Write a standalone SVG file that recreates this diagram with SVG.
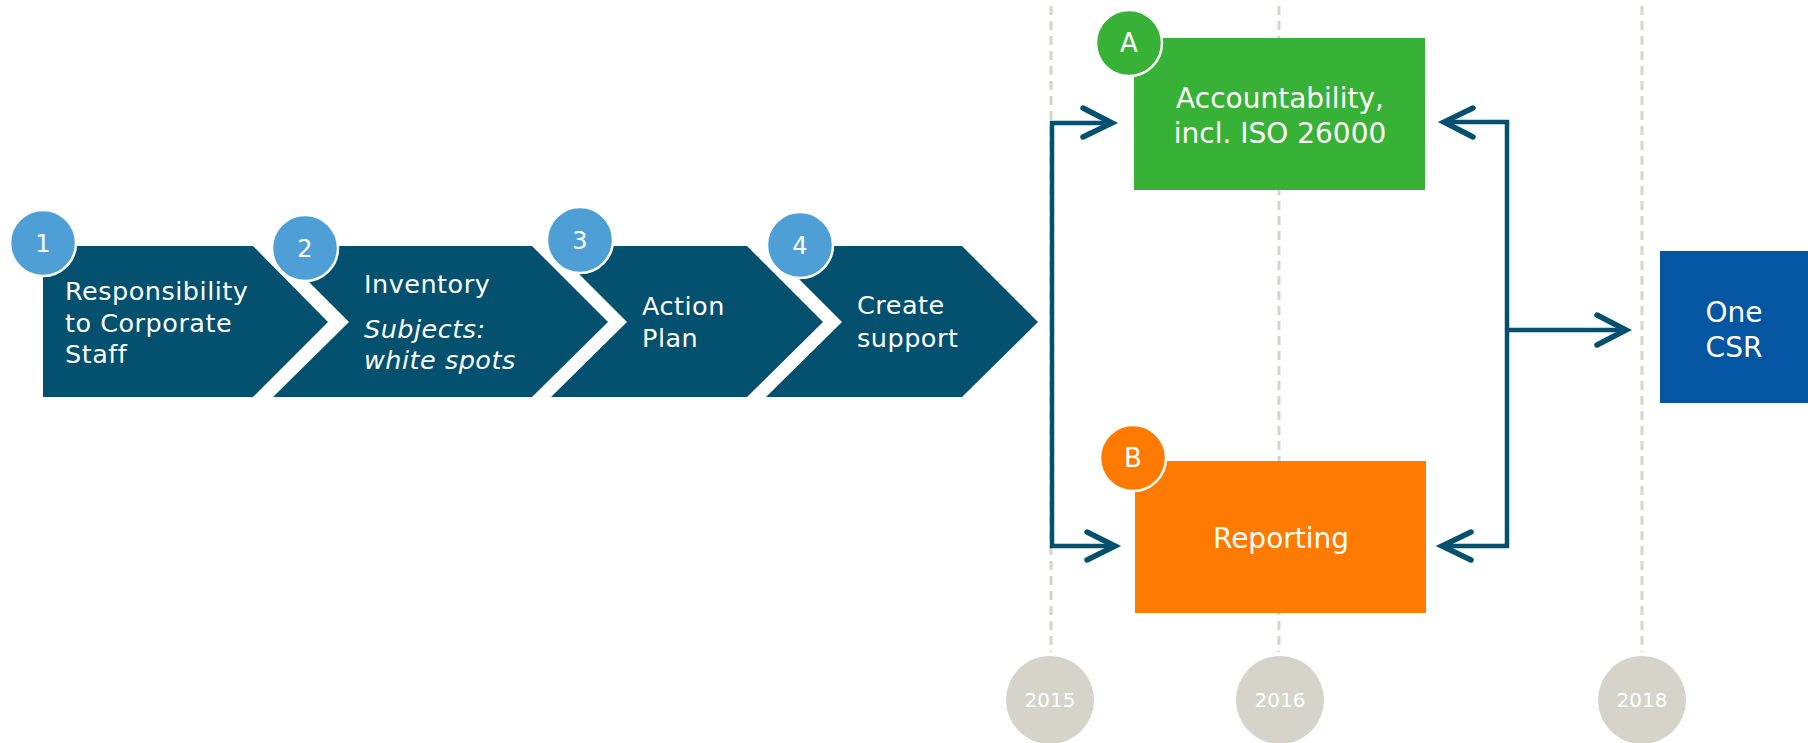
<svg xmlns="http://www.w3.org/2000/svg" width="1808" height="743" viewBox="0 0 1808 743">
<defs>
<style>
.chev{fill:#03506F}
.num{fill:#4F9FD7;stroke:#fff;stroke-width:2.5}
.t{font-family:"DejaVu Sans","Liberation Sans",sans-serif;fill:#fff}
.ct{font-size:25.5px;letter-spacing:0.5px}
.bt{font-size:28px;text-anchor:middle}
.nt{font-size:24px;text-anchor:middle}
.lt{font-size:26px;text-anchor:middle}
.yt{font-size:20px;text-anchor:middle}
.dash{stroke:#D5D3CA;stroke-width:3;stroke-dasharray:9 6;fill:none}
.year{fill:#D5D3CA}
.line{stroke:#03506F;stroke-width:4.5;fill:none;stroke-linejoin:miter}
.head{stroke:#03506F;stroke-width:5.5;fill:none;stroke-linecap:round;stroke-linejoin:miter}
</style>
</defs>
<rect width="1808" height="743" fill="#fff"/>

<g id="timeline">
<line class="dash" x1="1051" y1="6" x2="1051" y2="652"/>
<line class="dash" x1="1279" y1="6" x2="1279" y2="652"/>
<line class="dash" x1="1642" y1="6" x2="1642" y2="652"/>
<g id="y2015"><circle class="year" cx="1050" cy="700" r="44"/><text class="t yt" x="1050" y="707">2015</text></g>
<g id="y2016"><circle class="year" cx="1280" cy="700" r="44"/><text class="t yt" x="1280" y="707">2016</text></g>
<g id="y2018"><circle class="year" cx="1642" cy="700" r="44"/><text class="t yt" x="1642" y="707">2018</text></g>
</g>

<g id="step1">
<polygon class="chev" points="43,246 253,246 328,322 253,397 43,397"/>
<text class="t ct" x="65" y="300">Responsibility</text>
<text class="t ct" x="65" y="332">to Corporate</text>
<text class="t ct" x="65" y="363">Staff</text>
<circle class="num" cx="43" cy="243" r="33"/>
<text class="t nt" x="43" y="252">1</text>
</g>

<g id="step2">
<polygon class="chev" points="273,246 532,246 608,322 532,397 273,397 349,322"/>
<text class="t ct" x="364" y="293">Inventory</text>
<text class="t ct" x="364" y="338" font-style="italic">Subjects:</text>
<text class="t ct" x="364" y="369" font-style="italic">white spots</text>
<circle class="num" cx="305" cy="248" r="33"/>
<text class="t nt" x="305" y="257">2</text>
</g>

<g id="step3">
<polygon class="chev" points="551,246 747,246 823,322 747,397 551,397 627,322"/>
<text class="t ct" x="642" y="315">Action</text>
<text class="t ct" x="642" y="347">Plan</text>
<circle class="num" cx="580" cy="240" r="33"/>
<text class="t nt" x="580" y="249">3</text>
</g>

<g id="step4">
<polygon class="chev" points="766,246 962,246 1038,322 962,397 766,397 842,322"/>
<text class="t ct" x="857" y="314">Create</text>
<text class="t ct" x="857" y="347">support</text>
<circle class="num" cx="800" cy="245" r="33"/>
<text class="t nt" x="800" y="254">4</text>
</g>

<g id="connectors">
<polyline class="line" points="1112,123 1052,123 1052,546 1115,546"/>
<polyline class="head" points="1083,108 1112,123 1083,137"/>
<polyline class="head" points="1087,532 1115,546 1087,560"/>
<polyline class="line" points="1444,122 1507,122 1507,546 1442,546"/>
<line class="line" x1="1507" y1="330" x2="1626" y2="330"/>
<polyline class="head" points="1473,108 1444,122 1473,137"/>
<polyline class="head" points="1471,532 1442,546 1471,560"/>
<polyline class="head" points="1597,315 1626,330 1597,345"/>
</g>

<g id="nodeA">
<rect x="1134" y="38" width="291" height="152" fill="#37B236"/>
<text class="t bt" x="1280" y="108">Accountability,</text>
<text class="t bt" x="1280" y="143">incl. ISO 26000</text>
<circle cx="1129" cy="43" r="33" fill="#37B236" stroke="#fff" stroke-width="2.5"/>
<text class="t lt" x="1129" y="52">A</text>
</g>

<g id="nodeB">
<rect x="1135" y="461" width="291" height="152" fill="#FF7A00"/>
<text class="t bt" x="1281" y="548">Reporting</text>
<circle cx="1133" cy="458" r="33" fill="#FF7A00" stroke="#fff" stroke-width="2.5"/>
<text class="t lt" x="1133" y="467">B</text>
</g>

<g id="nodeCSR">
<rect x="1660" y="251" width="148" height="152" fill="#0455A2"/>
<text class="t bt" x="1734" y="322">One</text>
<text class="t bt" x="1734" y="357">CSR</text>
</g>
</svg>
